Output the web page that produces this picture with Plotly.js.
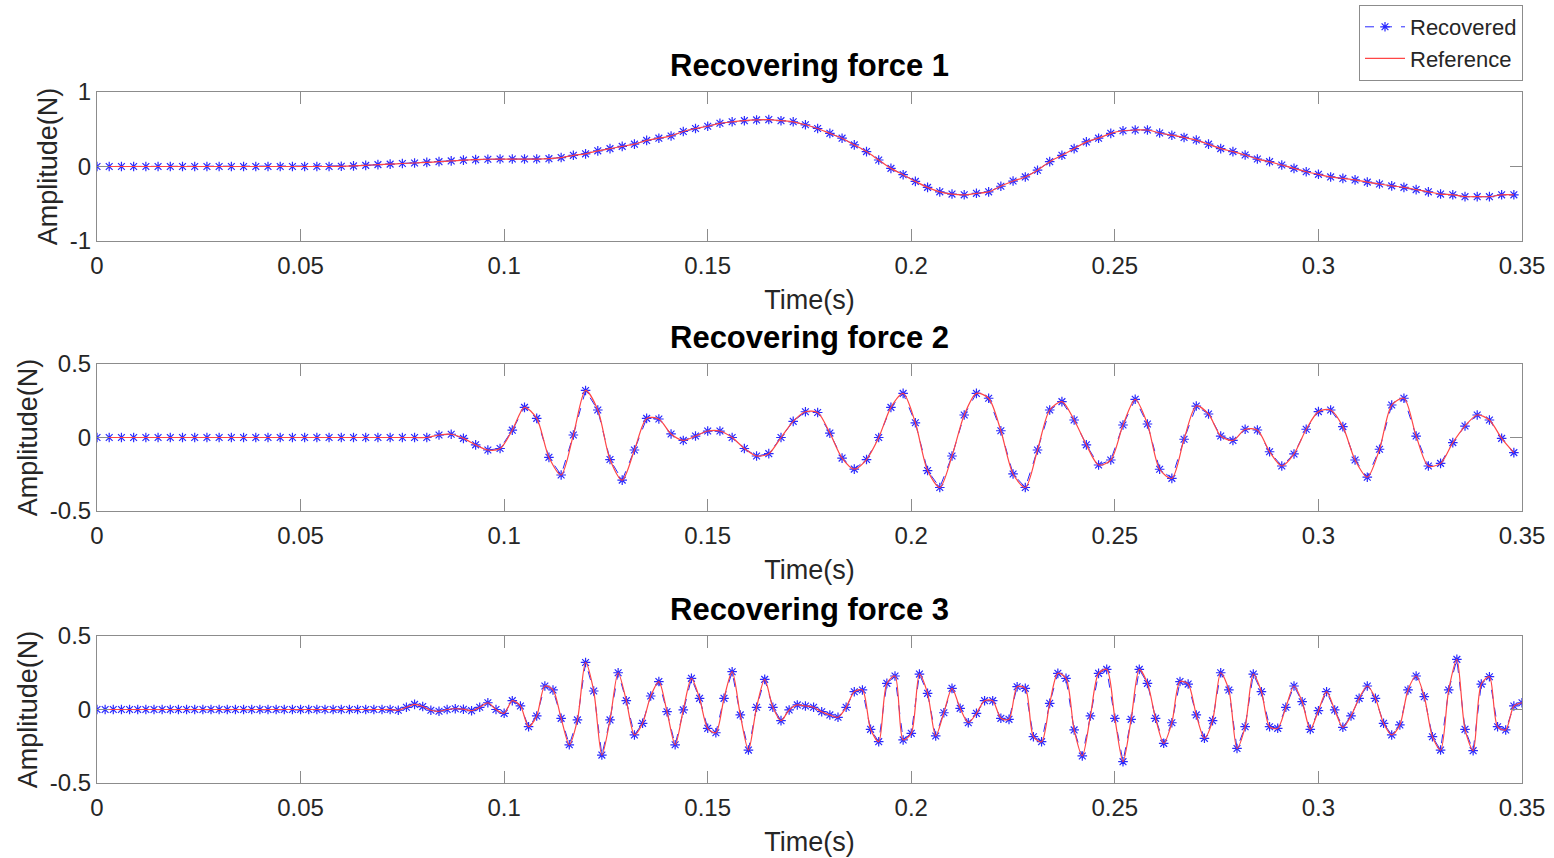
<!DOCTYPE html>
<html>
<head>
<meta charset="utf-8">
<script src="https://cdn.plot.ly/plotly-3.0.1.min.js"></script>
<style>html,body{margin:0;padding:0;background:#fff;}#chart{width:1554px;height:858px;}</style>
</head>
<body>
<div id="chart"></div>
<script>
// ---- data ----
const DT_1_2 = 0.003;   // sample step of forces 1 and 2 (s)
const DT_3 = 0.002;     // sample step of force 3 (s)

const force1 = [
  0,0,0,0,0,0,0,0,0,0,0,0,0,0,0,0,0,0,0,0,
  0.003,0.008,0.015,0.025,0.032,0.04,0.047,0.055,0.065,0.075,0.085,0.092,0.097,
  0.10,0.10,0.10,0.10,0.105,0.12,0.15,0.17,0.21,0.24,0.27,0.30,0.35,0.38,0.41,0.47,0.51,0.54,
  0.58,0.60,0.615,0.625,0.63,0.615,0.60,0.56,0.51,0.445,0.38,0.29,0.20,0.087,-0.025,-0.11,
  -0.20,-0.28,-0.34,-0.37,-0.38,-0.36,-0.34,-0.265,-0.195,-0.14,-0.05,0.065,0.15,0.24,0.33,
  0.38,0.445,0.48,0.49,0.49,0.45,0.42,0.39,0.355,0.30,0.24,0.20,0.155,0.10,0.065,0.02,-0.025,
  -0.07,-0.105,-0.14,-0.16,-0.18,-0.21,-0.235,-0.26,-0.28,-0.31,-0.34,-0.37,-0.38,-0.405,
  -0.405,-0.405,-0.38,-0.38
];

const force2 = [
  0,0,0,0,0,0,0,0,0,0,0,0,0,0,0,0,0,0,0,0,0,0,0,0,0,0,0,0,
  0.017,0.022,-0.006,-0.05,-0.085,-0.075,0.05,0.205,0.13,-0.135,-0.255,0.017,0.32,0.187,
  -0.15,-0.29,-0.085,0.13,0.126,0.024,-0.02,0.01,0.044,0.044,0,-0.075,-0.126,-0.11,0,0.11,
  0.175,0.17,0.03,-0.14,-0.215,-0.15,0,0.205,0.30,0.10,-0.225,-0.34,-0.126,0.153,0.30,0.267,
  0.046,-0.248,-0.34,-0.085,0.187,0.244,0.119,-0.05,-0.187,-0.153,0.085,0.26,0.092,-0.216,
  -0.278,-0.012,0.214,0.16,0.01,-0.02,0.056,0.051,-0.097,-0.194,-0.112,0.056,0.176,0.187,
  0.074,-0.153,-0.27,-0.08,0.221,0.267,0.01,-0.194,-0.176,-0.035,0.078,0.153,0.119,-0.006,
  -0.103
];

const force3 = [
  0,0,0,0,0,0,0,0,0,0,0,0,0,0,0,0,0,0,0,0,0,0,0,0,0,0,0,0,0,0,0,0,0,0,0,0,
  0,-0.005,0.015,0.035,0.02,-0.005,-0.012,0,0.005,0.002,
  -0.008,0.015,0.046,0,-0.026,0.06,0.024,-0.117,-0.044,0.16,0.133,-0.06,-0.24,-0.071,0.32,
  0.126,-0.31,-0.071,0.25,0.06,-0.173,-0.094,0.092,0.19,-0.015,-0.24,-0.003,0.212,0.076,
  -0.128,-0.158,0.076,0.257,-0.037,-0.276,0.015,0.205,0.015,-0.076,-0.003,0.031,0.024,0.015,
  -0.015,-0.037,-0.053,0.015,0.121,0.133,-0.135,-0.219,0.178,0.228,-0.207,-0.162,0.241,0.11,
  -0.18,-0.022,0.144,0.008,-0.09,-0.026,0.06,0.06,-0.06,-0.067,0.155,0.144,-0.185,-0.219,
  0.042,0.246,0.212,-0.139,-0.316,-0.044,0.246,0.273,-0.06,-0.355,-0.067,0.273,0.178,-0.06,
  -0.23,-0.09,0.19,0.173,-0.037,-0.196,-0.076,0.25,0.133,-0.265,-0.117,0.241,0.121,-0.117,
  -0.128,0.015,0.16,0.053,-0.135,-0.008,0.121,-0.003,-0.121,-0.044,0.076,0.16,0.076,-0.094,
  -0.173,-0.105,0.133,0.228,0.087,-0.185,-0.276,0.133,0.341,-0.135,-0.28,0.173,0.223,-0.117,
  -0.139,0.024,0.046
];

const titles = ['Recovering force 1', 'Recovering force 2', 'Recovering force 3'];
const xTickVals = [0, 0.05, 0.1, 0.15, 0.2, 0.25, 0.3, 0.35];
const xTickText = ['0', '0.05', '0.1', '0.15', '0.2', '0.25', '0.3', '0.35'];
const yTicks1 = [-1, 0, 1];
const yTicks23 = [-0.5, 0, 0.5];
const yTickText1 = ['-1', '0', '1'];
const yTickText23 = ['-0.5', '0', '0.5'];

// ---- build ----
const timeGrid = (n, dt) => Array.from({length: n}, (_, i) => +(i * dt).toFixed(4));
const series = [
  {y: force1, t: timeGrid(force1.length, DT_1_2)},
  {y: force2, t: timeGrid(force2.length, DT_1_2)},
  {y: force3, t: timeGrid(force3.length, DT_3)}
];

const W = 1554, H = 858;
const FONT = 'Liberation Sans, Arial, Helvetica, sans-serif';
const px = v => v / W;
const py = v => 1 - v / H;
const plotTop = [92, 364, 636], plotBot = [241, 511, 783];

const traces = [];
series.forEach((s, k) => {
  const sfx = k === 0 ? '' : String(k + 1);
  traces.push({
    x: s.t, y: s.y, xaxis: 'x' + sfx, yaxis: 'y' + sfx,
    type: 'scatter', mode: 'lines+markers', name: 'Recovered',
    showlegend: k === 0, legendgroup: 'rec',
    line: {color: 'rgb(40,40,255)', width: 1, dash: 'dash'},
    marker: {symbol: 'asterisk-open', size: 8, color: 'rgb(40,40,255)', line: {color: 'rgb(40,40,255)', width: 1.2}}
  });
  traces.push({
    x: s.t, y: s.y, xaxis: 'x' + sfx, yaxis: 'y' + sfx,
    type: 'scatter', mode: 'lines', name: 'Reference',
    showlegend: k === 0, legendgroup: 'ref',
    line: {color: 'rgb(255,70,70)', width: 1.2, shape: 'spline', smoothing: 0.8}
  });
});

const layout = {
  width: W, height: H,
  paper_bgcolor: '#fff', plot_bgcolor: '#fff',
  margin: {l: 0, r: 0, t: 0, b: 0},
  font: {family: FONT, size: 24, color: '#262626'},
  showlegend: true,
  legend: {
    x: px(1523), y: py(5), xanchor: 'right', yanchor: 'top',
    bgcolor: '#fff', bordercolor: '#8c8c8c', borderwidth: 1,
    font: {family: FONT, size: 22, color: '#262626'},
    tracegroupgap: 0, itemwidth: 40
  },
  annotations: []
};

for (let k = 0; k < 3; k++) {
  const sfx = k === 0 ? '' : String(k + 1);
  layout['xaxis' + sfx] = {
    domain: [px(97), px(1522)], anchor: 'y' + sfx,
    range: [0, 0.35], tickvals: xTickVals, ticktext: xTickText,
    ticks: 'inside', ticklen: 12, tickcolor: '#8c8c8c', tickwidth: 1,
    showline: true, linecolor: '#8c8c8c', linewidth: 1, mirror: 'ticks',
    showgrid: false, zeroline: false, automargin: false,
    ticklabelstandoff: 3,
    tickfont: {family: FONT, size: 24, color: '#262626'},
    title: {text: 'Time(s)', font: {family: FONT, size: 27, color: '#262626'}, standoff: 12}
  };
  layout['yaxis' + sfx] = {
    domain: [py(plotBot[k]), py(plotTop[k])], anchor: 'x' + sfx,
    range: k === 0 ? [-1, 1] : [-0.5, 0.5],
    tickvals: k === 0 ? yTicks1 : yTicks23, ticktext: k === 0 ? yTickText1 : yTickText23,
    ticks: 'inside', ticklen: 12, tickcolor: '#8c8c8c', tickwidth: 1,
    showline: true, linecolor: '#8c8c8c', linewidth: 1, mirror: 'ticks',
    showgrid: false, zeroline: false, automargin: false,
    tickfont: {family: FONT, size: 24, color: '#262626'},
    title: {text: 'Amplitude(N)', font: {family: FONT, size: 27, color: '#262626'}, standoff: 4}
  };
  layout.annotations.push({
    text: '<b>' + titles[k] + '</b>', xref: 'paper', yref: 'paper',
    x: px(809), y: py(plotTop[k] - 27), xanchor: 'center', yanchor: 'middle',
    showarrow: false, font: {family: FONT, size: 31, color: '#000'}
  });
}

Plotly.newPlot('chart', traces, layout, {displayModeBar: false, staticPlot: true});
</script>
</body>
</html>
